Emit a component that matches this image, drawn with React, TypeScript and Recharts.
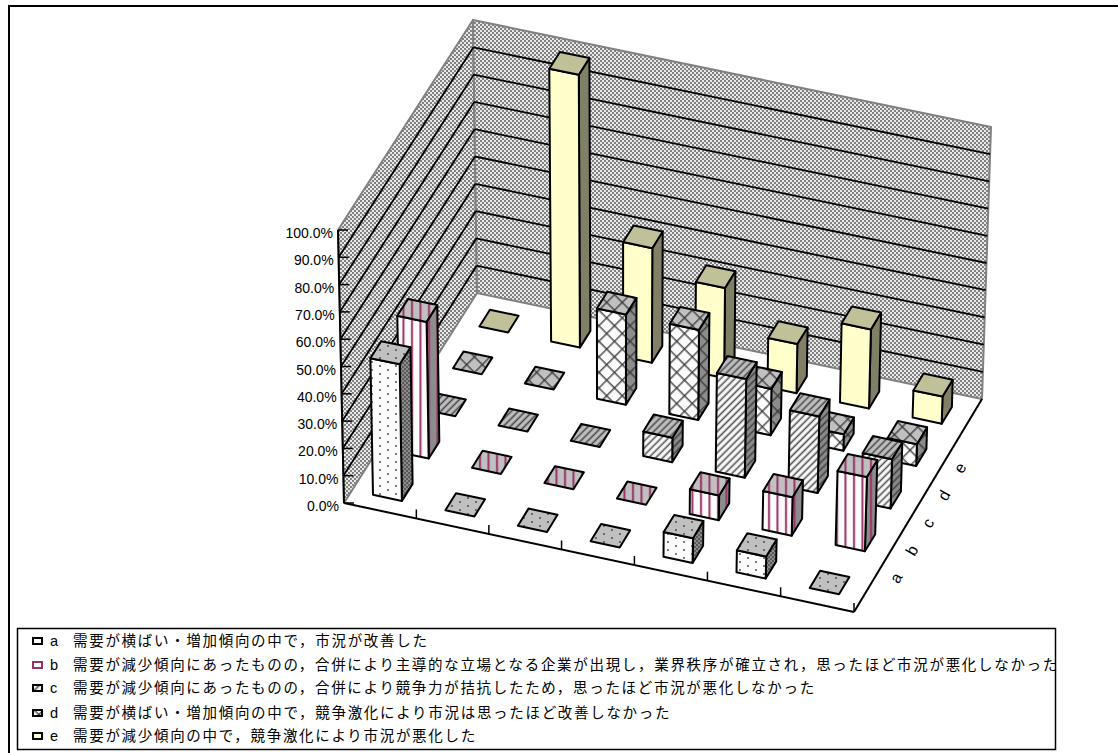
import React from "react";
import { ScatterChart, Scatter, XAxis, YAxis } from "recharts";

// Percentage of respondents per group (1-7) for each answer a-e.
const seriesA = [50, 0, 0, 0, 9, 8, 0];
const seriesB = [50, 0, 0, 0, 9, 14, 27];
const seriesC = [0, 0, 0, 9, 36, 28, 18];
const seriesD = [0, 0, 33, 33, 17, 6, 8];
const seriesE = [0, 100, 42, 33, 18, 29, 10];

const seriesKeys = ["a", "b", "c", "d", "e"];
const seriesValues = [seriesA, seriesB, seriesC, seriesD, seriesE];
const valueTicks = [0, 10, 20, 30, 40, 50, 60, 70, 80, 90, 100];
const groupTicks = [1, 2, 3, 4, 5, 6, 7];
const legendTexts = [
  "需要が横ばい・増加傾向の中で，市況が改善した",
  "需要が減少傾向にあったものの，合併により主導的な立場となる企業が出現し，業界秩序が確立され，思ったほど市況が悪化しなかった",
  "需要が減少傾向にあったものの，合併により競争力が拮抗したため，思ったほど市況が悪化しなかった",
  "需要が横ばい・増加傾向の中で，競争激化により市況は思ったほど改善しなかった",
  "需要が減少傾向の中で，競争激化により市況が悪化した",
];

const GROUPS = 7;
const DEPTH = 5;
const PLOT = { left: 344, right: 854, top: 230, bottom: 503 };
const LATIN = "'Liberation Sans', Arial, sans-serif";
const CJK = "'Noto Sans CJK JP', sans-serif";

// Floor corners of the 3D box on screen: front-left, front-right, back-right, back-left.
const floor = [
  [344, 503],
  [854, 612],
  [982, 399],
  [477, 293],
];
// Screen vector of the full 0-100 % height at those same corners.
const rise = [
  [-6, -273],
  [8, -276],
  [9, -272],
  [-4, -273],
];

function makeHomography() {
  const [[x0, y0], [x1, y1], [x2, y2], [x3, y3]] = floor;
  const dx1 = x1 - x2, dx2 = x3 - x2, dx3 = x0 - x1 + x2 - x3;
  const dy1 = y1 - y2, dy2 = y3 - y2, dy3 = y0 - y1 + y2 - y3;
  const det = dx1 * dy2 - dx2 * dy1;
  const g = (dx3 * dy2 - dx2 * dy3) / det;
  const h = (dx1 * dy3 - dx3 * dy1) / det;
  const a = x1 - x0 + g * x1, b = x3 - x0 + h * x3;
  const d = y1 - y0 + g * y1, e = y3 - y0 + h * y3;
  return (s: number, t: number) => {
    const w = g * s + h * t + 1;
    return [(a * s + b * t + x0) / w, (d * s + e * t + y0) / w];
  };
}
const floorPoint = makeHomography();

// Maps (group position, depth position, percentage) to screen coordinates.
function project(u: number, v: number, pct: number): [number, number] {
  const s = u / GROUPS, t = v / DEPTH;
  const [fx, fy] = floorPoint(s, t);
  const mix = (i: number) =>
    (1 - s) * (1 - t) * rise[0][i] + s * (1 - t) * rise[1][i] + s * t * rise[2][i] + (1 - s) * t * rise[3][i];
  return [fx + (mix(0) * pct) / 100, fy + (mix(1) * pct) / 100];
}

const pts = (list: [number, number][]) => list.map((p) => p.map((n) => n.toFixed(1)).join(",")).join(" ");

// Fill patterns, one per visible face of each series.
function hatch(id: string, bg: string, kind: string, dense: boolean) {
  const ink = "#333";
  if (kind === "a") {
    const w = dense ? 4 : 16;
    const h = dense ? 4 : 8;
    return (
      <pattern key={id} id={id} width={w} height={h} patternUnits="userSpaceOnUse">
        <rect width={w} height={h} fill={bg} />
        <circle cx={w / 4} cy={h / 4} r={0.95} fill="#444" />
        <circle cx={(3 * w) / 4} cy={(3 * h) / 4} r={0.95} fill="#444" />
      </pattern>
    );
  }
  if (kind === "b")
    return (
      <pattern key={id} id={id} width={8.5} height={8} patternUnits="userSpaceOnUse">
        <rect width={8.5} height={8} fill={bg} />
        <rect x={3} width={2} height={8} fill="#993366" />
      </pattern>
    );
  if (kind === "c")
    return (
      <pattern key={id} id={id} width={5} height={5} patternUnits="userSpaceOnUse" patternTransform="rotate(45)">
        <rect width={5} height={5} fill={bg} />
        <rect x={1.6} width={1.6} height={5} fill={ink} opacity={0.85} />
      </pattern>
    );
  return (
    <pattern key={id} id={id} width={11} height={11} patternUnits="userSpaceOnUse" patternTransform="rotate(45)">
      <rect width={11} height={11} fill={bg} />
      <rect x={4} width={1.6} height={11} fill={ink} opacity={0.8} />
      <rect y={4} width={11} height={1.6} fill={ink} opacity={0.8} />
    </pattern>
  );
}

function Patterns() {
  return (
    <defs>
      <pattern id="wall" width={4} height={4} patternUnits="userSpaceOnUse">
        <rect width={4} height={4} fill="#e8e8e8" />
        <circle cx={1} cy={1} r={0.9} fill="#505050" />
        <circle cx={3} cy={3} r={0.9} fill="#505050" />
      </pattern>
      {["a", "b", "c", "d"].flatMap((k) => [
        hatch(`${k}-front`, "#fbfbfb", k, false),
        hatch(`${k}-top`, "#c0c0c0", k, false),
        hatch(`${k}-side`, "#8c8c8c", k, true),
      ])}
    </defs>
  );
}

const faceFill = (key: string, face: "front" | "top" | "side") => {
  if (key === "e") return { front: "#ffffcc", top: "#c0c099", side: "#808066" }[face];
  return `url(#${key}-${face})`;
};

// Side and back walls, gridlines and the two floor edges.
function Walls() {
  const wallEdge = { stroke: "#808080", strokeWidth: 2, strokeLinejoin: "round" as const };
  const left = pts([project(0, 0, 0), project(0, DEPTH, 0), project(0, DEPTH, 100), project(0, 0, 100)]);
  const back = pts([project(0, DEPTH, 0), project(GROUPS, DEPTH, 0), project(GROUPS, DEPTH, 100), project(0, DEPTH, 100)]);
  const seg = (a: [number, number], b: [number, number], props: object) => (
    <line x1={a[0]} y1={a[1]} x2={b[0]} y2={b[1]} {...props} />
  );
  return (
    <g>
      <polygon points={left} fill="url(#wall)" {...wallEdge} />
      <polygon points={back} fill="url(#wall)" {...wallEdge} />
      {valueTicks
        .filter((t) => t > 0 && t < 100)
        .map((t) => (
          <g key={t}>
            {seg(project(0, 0, t), project(0, DEPTH, t), { stroke: "#000", strokeWidth: 1.8 })}
            {seg(project(0, DEPTH, t), project(GROUPS, DEPTH, t), { stroke: "#000", strokeWidth: 1.8 })}
          </g>
        ))}
      {seg(project(0, 0, 0), project(0, 0, 100), { stroke: "#000", strokeWidth: 2 })}
      {seg(project(0, 0, 0), project(GROUPS, 0, 0), { stroke: "#000", strokeWidth: 2 })}
      {seg(project(GROUPS, 0, 0), project(GROUPS, DEPTH, 0), { stroke: "#000", strokeWidth: 2 })}
    </g>
  );
}

// Rotated a-e labels beside the depth axis.
function DepthLabels() {
  return (
    <g>
      {seriesKeys.map((k, i) => {
        const x = 896 + i * 16;
        const y = 578 - i * 27.5;
        return (
          <text
            key={k}
            x={x}
            y={y}
            fontFamily={LATIN}
            fontSize={16}
            fill="#000"
            textAnchor="middle"
            dominantBaseline="central"
            transform={`rotate(-60 ${x} ${y})`}
          >
            {k}
          </text>
        );
      })}
    </g>
  );
}

function Frame() {
  return (
    <g>
      <line x1={8} y1={6} x2={1118} y2={6} stroke="#000" strokeWidth={2} />
      <line x1={9} y1={5} x2={9} y2={753} stroke="#000" strokeWidth={2} />
    </g>
  );
}

function LegendBox() {
  const rows = [641, 665, 688, 713, 736];
  return (
    <g>
      <rect x={17.5} y={628.5} width={1038} height={121} fill="#fff" stroke="#000" strokeWidth={1.5} />
      {seriesKeys.map((k, i) => (
        <g key={k}>
          <rect
            x={33}
            y={rows[i] - 3}
            width={9}
            height={6}
            fill={k === "a" || k === "b" ? "#fff" : faceFill(k, "front")}
            stroke={k === "b" ? "#993366" : "#000"}
            strokeWidth={2}
          />
          <text x={50} y={rows[i] + 5} fontFamily={LATIN} fontSize={14.5} fill="#000">
            {k}
          </text>
          <text x={73} y={rows[i] + 5} fontFamily={CJK} fontSize={14.5} letterSpacing={1.69} fill="#000">
            {legendTexts[i]}
          </text>
        </g>
      ))}
    </g>
  );
}

// One 3D column: the library hands us the scaled position and height.
function Cuboid(props: any) {
  const { cx, cy, depth, seriesKey } = props;
  const u = ((cx - PLOT.left) / (PLOT.right - PLOT.left)) * GROUPS;
  const pct = ((PLOT.bottom - cy) / (PLOT.bottom - PLOT.top)) * 100;
  const u0 = u - 0.21, u1 = u + 0.19;
  const v0 = depth + 0.3, v1 = depth + 0.7;
  const line = { stroke: "#000", strokeWidth: 2, strokeLinejoin: "round" as const };
  const top = pts([project(u0, v0, pct), project(u1, v0, pct), project(u1, v1, pct), project(u0, v1, pct)]);
  if (pct <= 0) return <polygon points={top} fill={faceFill(seriesKey, "top")} {...line} />;
  const front = pts([project(u0, v0, 0), project(u1, v0, 0), project(u1, v0, pct), project(u0, v0, pct)]);
  const side = pts([project(u1, v0, 0), project(u1, v1, 0), project(u1, v1, pct), project(u1, v0, pct)]);
  return (
    <g>
      <polygon points={side} fill={faceFill(seriesKey, "side")} {...line} />
      <polygon points={front} fill={faceFill(seriesKey, "front")} {...line} />
      <polygon points={top} fill={faceFill(seriesKey, "top")} {...line} />
    </g>
  );
}

function ValueTick(props: any) {
  const [x, y] = project(0, 0, props.payload.value);
  return (
    <g>
      <line x1={x} y1={y} x2={x + 10} y2={y} stroke="#000" strokeWidth={1.5} />
      <text x={x - 5} y={y + 8} textAnchor="end" fontFamily={LATIN} fontSize={14} fill="#000">
        {`${props.payload.value.toFixed(1)}%`}
      </text>
    </g>
  );
}

function GroupTick(props: any) {
  const [x, y] = project(props.payload.value, 0, 0);
  return <line x1={x} y1={y} x2={x} y2={y - 9} stroke="#000" strokeWidth={1.5} />;
}

const rowData = (values: number[]) => values.map((share, i) => ({ position: i + 0.5, share }));

export default function App() {
  // Painted from the back row to the front row so nearer columns cover farther ones.
  const order = [4, 3, 2, 1, 0];
  return (
    <div style={{ position: "absolute", left: 0, top: 0, width: 1118, height: 753, overflow: "hidden", background: "#fff" }}>
      <ScatterChart
        width={1118}
        height={753}
        margin={{ left: PLOT.left - 60, right: 1118 - PLOT.right, top: PLOT.top, bottom: 753 - PLOT.bottom - 30 }}
      >
        <Patterns />
        <Frame />
        <Walls />
        <DepthLabels />
        <LegendBox />
        <XAxis
          type="number"
          dataKey="position"
          domain={[0, GROUPS]}
          ticks={groupTicks}
          height={30}
          axisLine={false}
          tickLine={false}
          tick={<GroupTick />}
          interval={0}
        />
        <YAxis
          type="number"
          dataKey="share"
          domain={[0, 100]}
          ticks={valueTicks}
          width={60}
          axisLine={false}
          tickLine={false}
          tick={<ValueTick />}
          interval={0}
        />
        {order.map((s) => (
          <Scatter
            key={seriesKeys[s]}
            name={seriesKeys[s]}
            data={rowData(seriesValues[s])}
            isAnimationActive={false}
            shape={(p: any) => <Cuboid {...p} depth={s} seriesKey={seriesKeys[s]} />}
          />
        ))}
      </ScatterChart>
    </div>
  );
}
